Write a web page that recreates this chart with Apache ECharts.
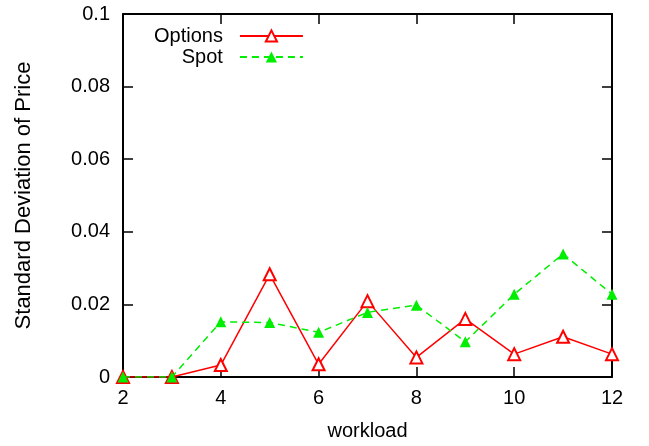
<!DOCTYPE html>
<html>
<head>
<meta charset="utf-8">
<script src="https://cdn.jsdelivr.net/npm/echarts@6/dist/echarts.min.js"></script>
<style>
  html, body { margin: 0; padding: 0; background: #fff; }
  #chart { width: 649px; height: 446px; }
</style>
</head>
<body>
<div id="chart"></div>
<script>
// values
const workload = [2, 3, 4, 5, 6, 7, 8, 9, 10, 11, 12];
const optionsStd = [0, 0, 0.0033, 0.0283, 0.0035, 0.0209, 0.0054, 0.016, 0.0063, 0.0111, 0.0063];
const spotStd = [0, 0, 0.0152, 0.015, 0.0123, 0.0178, 0.0198, 0.0097, 0.0228, 0.0339, 0.0228];

const font = 'Liberation Sans, Arial, Helvetica, sans-serif';
const pairs = (ys) => workload.map((x, i) => [x, ys[i]]);

const chart = echarts.init(document.getElementById('chart'));

// frame axes: ticks pointing inward on all four sides
const frameAxis = {
  axisLine: { show: true, onZero: false, lineStyle: { color: '#000', width: 2 } },
  axisTick: { show: true, inside: true, length: 10, lineStyle: { color: '#000', width: 1.5 } },
  splitLine: { show: false },
};

chart.setOption({
  animation: false,
  grid: { left: 123, right: 37, top: 14, bottom: 69 },
  legend: {
    left: 149,
    top: 21,
    orient: 'vertical',
    align: 'right',
    itemWidth: 63,
    itemHeight: 14,
    itemGap: 1,
    textStyle: { fontFamily: font, fontSize: 20, color: '#000', padding: [0, 12, 0, 0] },
    data: ['Options', 'Spot'],
  },
  xAxis: [
    {
      ...frameAxis,
      type: 'value',
      min: 2,
      max: 12,
      interval: 2,
      name: 'workload',
      nameLocation: 'middle',
      nameGap: 44,
      nameTextStyle: { fontFamily: font, fontSize: 20, color: '#000' },
      axisLabel: { fontFamily: font, fontSize: 20, color: '#000', margin: 11 },
    },
    {
      ...frameAxis,
      type: 'value',
      position: 'top',
      min: 2,
      max: 12,
      interval: 2,
      axisLabel: { show: false },
    },
  ],
  yAxis: [
    {
      ...frameAxis,
      type: 'value',
      min: 0,
      max: 0.1,
      interval: 0.02,
      name: 'Standard Deviation of Price',
      nameLocation: 'middle',
      nameGap: 88,
      nameTextStyle: { fontFamily: font, fontSize: 22, color: '#000' },
      axisLabel: { fontFamily: font, fontSize: 20, color: '#000', margin: 13 },
    },
    {
      ...frameAxis,
      type: 'value',
      position: 'right',
      min: 0,
      max: 0.1,
      interval: 0.02,
      axisLabel: { show: false },
    },
  ],
  series: [
    {
      name: 'Options',
      type: 'line',
      data: pairs(optionsStd),
      symbol: 'emptyTriangle',
      symbolSize: 12,
      color: '#ff0000',
      lineStyle: { color: '#ff0000', width: 1.5 },
      itemStyle: { color: '#ff0000', borderColor: '#ff0000', borderWidth: 2 },
      z: 3,
    },
    {
      name: 'Spot',
      type: 'line',
      data: pairs(spotStd),
      symbol: 'triangle',
      symbolSize: 11,
      color: '#00ee00',
      lineStyle: { color: '#00ee00', width: 1.5, type: [7, 5] },
      itemStyle: { color: '#00ee00' },
      z: 4,
    },
  ],
});
</script>
</body>
</html>
